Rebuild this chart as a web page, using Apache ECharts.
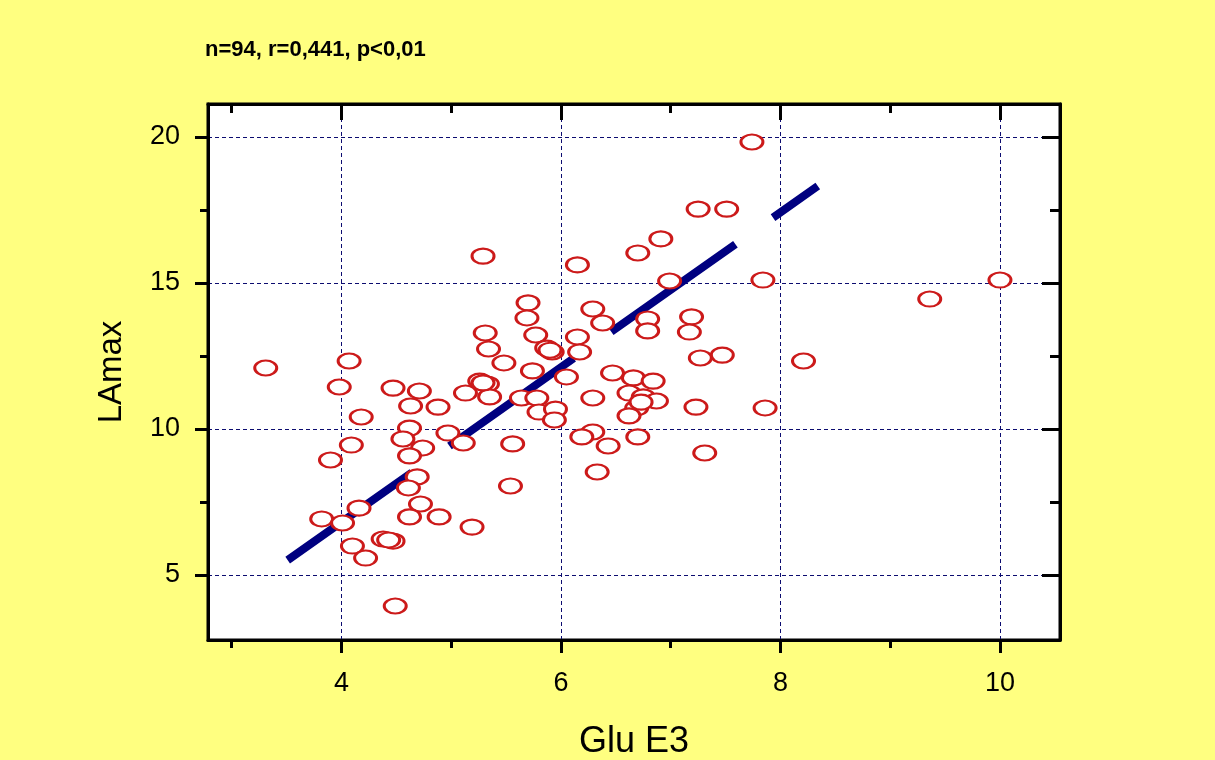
<!DOCTYPE html>
<html>
<head>
<meta charset="utf-8">
<script src="https://cdn.jsdelivr.net/npm/echarts@6/dist/echarts.min.js"></script>
<style>
html,body{margin:0;padding:0;background:#FFFF80;}
#c{width:1215px;height:760px;}
</style>
</head>
<body>
<div id="c"></div>
<script>
// ---- data ----
const gluE3 = [3.31,4.07,3.98,4.47,4.71,4.63,4.88,4.18,4.62,4.56,4.97,5.11,4.09,4.74,4.62,3.90,4.69,4.61,4.72,4.16,
  4.62,4.89,3.82,4.01,5.19,4.10,4.38,4.47,4.22,4.49,5.13,5.26,5.33,5.35,5.29,5.31,5.34,5.48,5.77,5.70,
  5.69,5.87,5.92,5.74,5.64,5.78,5.80,5.95,5.94,5.56,5.54,6.05,6.15,6.17,6.15,6.29,6.38,6.29,6.47,6.66,
  6.84,6.62,6.75,6.87,6.69,6.62,6.29,6.19,6.43,6.70,6.33,6.79,6.79,6.70,6.91,6.99,7.19,7.17,7.25,7.51,
  7.74,7.27,7.47,7.23,7.31,7.84,7.86,8.21,9.36,10.00,5.90,5.29,4.43,6.73];
const laMax = [12.09,12.33,11.44,11.40,11.30,10.79,10.75,10.41,10.03,9.66,9.86,9.52,9.45,9.35,9.08,8.94,8.36,7.98,7.43,7.29,
  6.99,6.99,6.92,6.78,6.64,5.99,6.23,6.16,5.58,3.94,11.23,11.64,11.54,11.10,15.92,13.29,12.74,12.26,13.22,14.32,
  13.80,12.77,12.64,11.99,11.06,11.06,10.58,10.68,10.31,9.49,8.05,11.78,13.15,12.64,15.62,14.11,13.63,11.06,11.92,11.75,
  11.64,11.23,11.10,10.96,10.72,10.45,9.90,9.73,9.42,9.73,8.53,13.77,13.36,16.03,16.51,15.07,13.84,13.32,17.53,17.53,
  19.83,12.43,12.53,10.75,9.18,15.10,10.72,12.33,14.45,15.10,12.70,11.58,6.20,10.92];
const fitX = [3.51, 8.34];
const fitY = [5.51, 18.32];
const xMajorTicks = [4, 6, 8, 10];
const xMinorTicks = [3, 5, 7, 9];
const yMajorTicks = [5, 10, 15, 20];
const yMinorTicks = [7.5, 12.5, 17.5];
const subtitle = 'n=94, r=0,441, p<0,01';
const xName = 'Glu E3';
const yName = 'LAmax';

const X_MIN = 2.784, X_MAX = 10.547, Y_MIN = 2.774, Y_MAX = 21.13;
const FONT = 'Arial, "Liberation Sans", sans-serif';
const gridColor = '#0c0c70';

const scatterData = gluE3.map((x, i) => [x, laMax[i]]);
const fitData = fitX.map((x, i) => [x, fitY[i]]);

function xAx(pos, ticks, len, inside, extra) {
  return Object.assign({
    type: 'value', position: pos, min: X_MIN, max: X_MAX, splitNumber: 4,
    axisLine: {show: false},
    axisTick: {show: true, customValues: ticks, length: len, inside: inside, lineStyle: {color: '#000', width: 3}},
    axisLabel: {show: false},
    splitLine: {show: false}
  }, extra || {});
}
function yAx(pos, ticks, len, inside, extra) {
  return Object.assign({
    type: 'value', position: pos, min: Y_MIN, max: Y_MAX, splitNumber: 4,
    axisLine: {show: false},
    axisTick: {show: true, customValues: ticks, length: len, inside: inside, lineStyle: {color: '#000', width: 3}},
    axisLabel: {show: false},
    splitLine: {show: false}
  }, extra || {});
}

const chart = echarts.init(document.getElementById('c'), null, {renderer: 'canvas'});
chart.setOption({
  backgroundColor: '#FFFF80',
  animation: false,
  title: {
    text: subtitle, left: 205, top: 39, padding: 0,
    textStyle: {fontFamily: FONT, fontSize: 22, fontWeight: 'bold', color: '#000'}
  },
  grid: {
    left: 208, top: 104, right: 155, bottom: 120,
    outerBoundsMode: 'none', containLabel: false,
    show: true, backgroundColor: '#ffffff', borderColor: '#000', borderWidth: 3
  },
  xAxis: [
    xAx('bottom', xMajorTicks, 13, false, {
      axisLine: {show: true, lineStyle: {color: '#000', width: 3}},
      axisLabel: {show: true, customValues: xMajorTicks, margin: 30, fontFamily: FONT, fontSize: 27, color: '#000'},
      splitLine: {show: true, lineStyle: {color: gridColor, width: 1, type: [4, 3]}},
      name: xName, nameLocation: 'middle', nameGap: 84,
      nameTextStyle: {fontFamily: FONT, fontSize: 36, color: '#000'}
    }),
    xAx('bottom', xMinorTicks, 8, false),
    xAx('top', xMajorTicks, 16, true, {axisLine: {show: true, lineStyle: {color: '#000', width: 3}}}),
    xAx('top', xMinorTicks, 9, true)
  ],
  yAxis: [
    yAx('left', yMajorTicks, 13, false, {
      axisLine: {show: true, lineStyle: {color: '#000', width: 3}},
      axisLabel: {show: true, customValues: yMajorTicks, margin: 28, fontFamily: FONT, fontSize: 27, color: '#000'},
      splitLine: {show: true, lineStyle: {color: gridColor, width: 1, type: [4, 3]}},
      name: yName, nameLocation: 'middle', nameGap: 80, nameRotate: 90,
      nameTextStyle: {fontFamily: FONT, fontSize: 33, color: '#000'}
    }),
    yAx('left', yMinorTicks, 8, false),
    yAx('right', yMajorTicks, 18, true, {axisLine: {show: true, lineStyle: {color: '#000', width: 3}}}),
    yAx('right', yMinorTicks, 10, true)
  ],
  series: [
    {
      type: 'line', xAxisIndex: 0, yAxisIndex: 0, z: 1,
      data: fitData, symbol: 'none', silent: true,
      lineStyle: {color: '#000080', width: 8, type: [152, 46], cap: 'butt'}
    },
    {
      type: 'scatter', xAxisIndex: 0, yAxisIndex: 0, z: 3,
      data: scatterData, symbol: 'circle', symbolSize: [22, 15],
      itemStyle: {color: '#ffffff', borderColor: '#cc1a1a', borderWidth: 2.5, opacity: 1}
    }
  ]
});
</script>
</body>
</html>
